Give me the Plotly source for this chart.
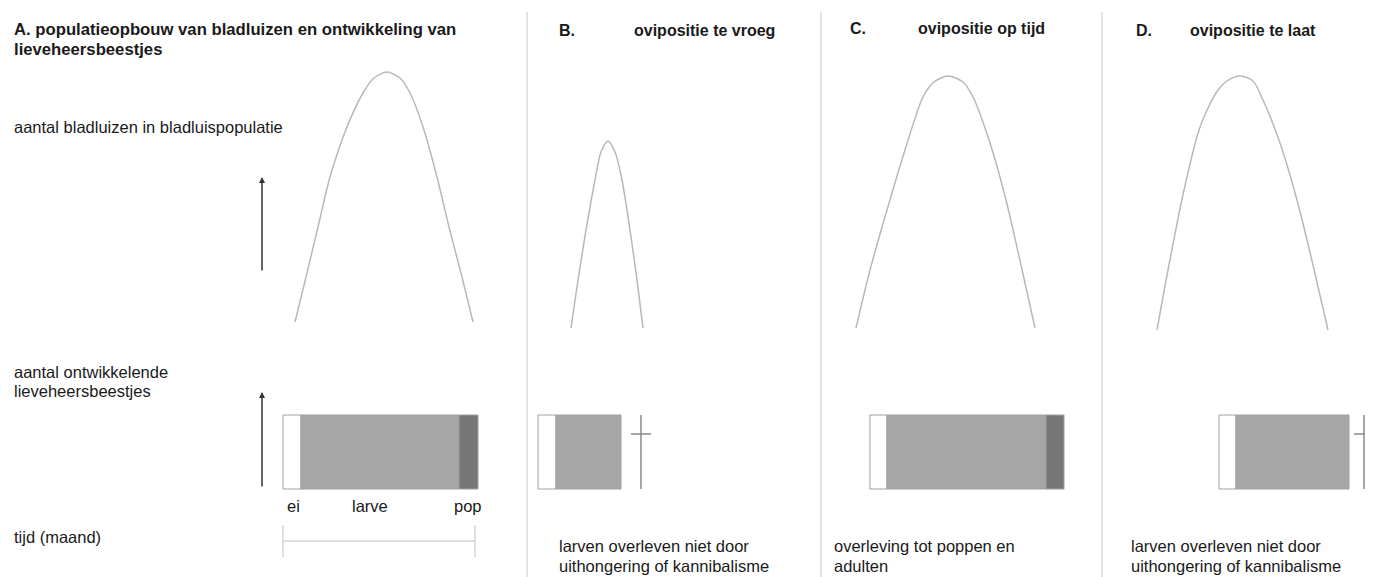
import plotly.graph_objects as go

W, H = 1373, 577
OFF = 8  # page body margin of the browser

# ---- data (pixel coordinates of the schematic) ----
# aphid population curves: (x, y) points per panel
curveA_x = [295, 306, 318, 330, 347, 363, 374, 387, 400, 410, 423, 437, 449, 462, 473]
curveA_y = [322, 277, 227, 177, 127, 93, 78, 72, 78, 93, 127, 177, 227, 277, 322]
curveB_x = [571, 578, 586, 595, 601, 608, 615, 622, 630, 637, 643]
curveB_y = [328, 280, 230, 180, 152, 141, 152, 180, 230, 280, 328]
curveC_x = [856, 870, 887, 905, 923, 934, 948, 963, 973, 990, 1006, 1021, 1035]
curveC_y = [328, 270, 210, 150, 97, 82, 76, 82, 97, 143, 200, 265, 328]
curveD_x = [1157, 1168, 1184, 1200, 1216, 1227, 1240, 1253, 1263, 1280, 1297, 1313, 1328]
curveD_y = [330, 270, 190, 127, 93, 81, 76, 81, 100, 143, 200, 265, 330]

# ladybird development stages: edges (x) per panel
stages = ["ei", "larve", "pop"]
stage_colors = ["#ffffff", "#a6a6a6", "#767676"]
panelA_edges = [283, 301, 459, 478]
panelB_edges = [538, 556, 621]
panelC_edges = [870, 887, 1046, 1064]
panelD_edges = [1219, 1236, 1349]
bar_y0, bar_y1 = 415, 489

# death crosses (x position) for panels B and D
cross_x = [641, 1364]

separators_x = [527, 821, 1102]

TXT = "#1a1a1a"
FONT = "Liberation Sans, Arial, Helvetica, sans-serif"

fig = go.Figure()

for cx, cy in [(curveA_x, curveA_y), (curveB_x, curveB_y),
               (curveC_x, curveC_y), (curveD_x, curveD_y)]:
    fig.add_trace(go.Scatter(x=cx, y=cy, mode="lines",
                             line=dict(color="#b8b8b8", width=1.5, shape="spline", smoothing=0.8),
                             hoverinfo="skip", showlegend=False))

for edges in [panelA_edges, panelB_edges, panelC_edges, panelD_edges]:
    for i in range(len(edges) - 1):
        fig.add_trace(go.Bar(orientation="h", y=[(bar_y0 + bar_y1) / 2],
                             base=[edges[i]], x=[edges[i + 1] - edges[i]],
                             width=bar_y1 - bar_y0,
                             marker=dict(color=stage_colors[i],
                                         line=dict(color="#a0a0a0", width=1)),
                             hoverinfo="skip", showlegend=False))

for xc in cross_x:
    fig.add_trace(go.Scatter(x=[xc, xc], y=[bar_y0, bar_y1], mode="lines",
                             line=dict(color="#8a8a8a", width=1.5),
                             hoverinfo="skip", showlegend=False))
    fig.add_trace(go.Scatter(x=[xc - 10, xc + 10], y=[434, 434], mode="lines",
                             line=dict(color="#8a8a8a", width=1.5),
                             hoverinfo="skip", showlegend=False))

fig.add_trace(go.Scatter(x=[283, 475], y=[541, 541], mode="lines",
                         line=dict(color="#d4d4d4", width=1.5), hoverinfo="skip", showlegend=False))
for xt in [283, 475]:
    fig.add_trace(go.Scatter(x=[xt, xt], y=[525, 557], mode="lines",
                             line=dict(color="#d4d4d4", width=1.5), hoverinfo="skip", showlegend=False))

shapes = []
for xs in separators_x:
    shapes.append(dict(type="line", xref="x", yref="y", x0=xs, x1=xs, y0=12, y1=H,
                       line=dict(color="#cfcfcf", width=1.2)))

ann = []

def txt(x, y, s, size=16.5, bold=False, anchor="left"):
    ann.append(dict(x=x, y=y, xref="x", yref="y", text=("<b>%s</b>" % s) if bold else s,
                    showarrow=False, xanchor=anchor, yanchor="middle",
                    font=dict(family=FONT, size=size, color=TXT)))

txt(12, 29, "A. populatieopbouw van bladluizen en ontwikkeling van", 16.7, True)
txt(12, 49, "lieveheersbeestjes", 16.7, True)
txt(12, 127, "aantal bladluizen in bladluispopulatie")
txt(12, 372, "aantal ontwikkelende")
txt(12, 391, "lieveheersbeestjes")
txt(12, 537, "tijd (maand)")
txt(293, 506, "ei", anchor="center")
txt(370, 506, "larve", anchor="center")
txt(468, 506, "pop", anchor="center")

txt(557, 30, "B.", 16, True)
txt(632, 30, "ovipositie te vroeg", 16, True)
txt(848, 28, "C.", 16, True)
txt(916, 28, "ovipositie op tijd", 16, True)
txt(1134, 30, "D.", 16, True)
txt(1188, 30, "ovipositie te laat", 16, True)

txt(557, 546, "larven overleven niet door")
txt(557, 566, "uithongering of kannibalisme")
txt(832, 546, "overleving tot poppen en")
txt(832, 566, "adulten")
txt(1129, 546, "larven overleven niet door")
txt(1129, 566, "uithongering of kannibalisme")

for y_from, y_to in [(272, 177), (488, 392)]:
    ann.append(dict(x=262, y=y_to, ax=262, ay=y_from, xref="x", yref="y", axref="x", ayref="y",
                    text="", showarrow=True, arrowhead=2, arrowsize=0.8, arrowwidth=1.5,
                    arrowcolor="#333333"))

fig.update_layout(width=W - OFF, height=H - OFF, margin=dict(l=0, r=0, t=0, b=0),
                  paper_bgcolor="white", plot_bgcolor="white", barmode="overlay",
                  shapes=shapes, annotations=ann,
                  xaxis=dict(range=[OFF, W], visible=False, fixedrange=True),
                  yaxis=dict(range=[H, OFF], visible=False, fixedrange=True))

fig.write_html("out.html")
